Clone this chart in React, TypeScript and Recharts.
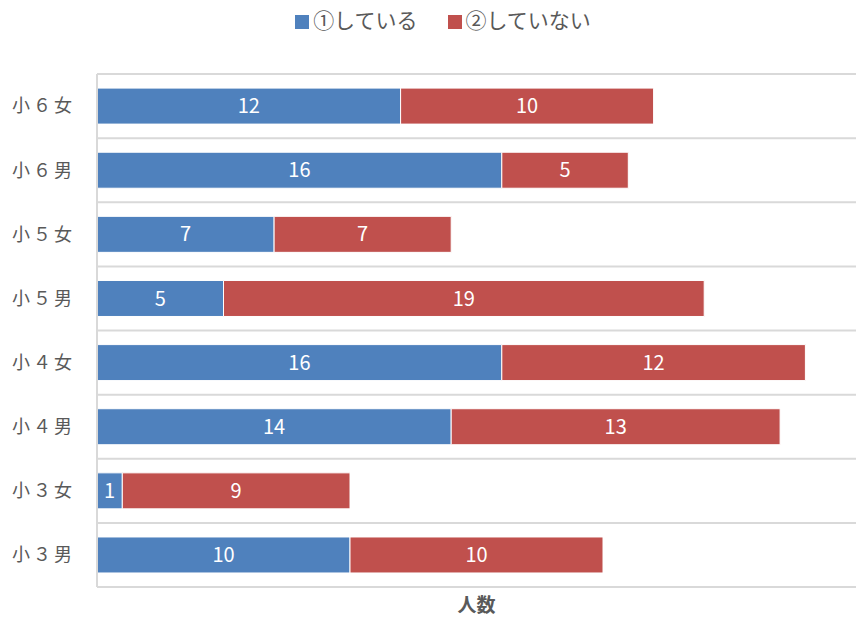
import { BarChart, Bar, XAxis, YAxis, CartesianGrid, Legend, LabelList } from "recharts";

const categories = ["小６女", "小６男", "小５女", "小５男", "小４女", "小４男", "小３女", "小３男"];
const doing = [12, 16, 7, 5, 16, 14, 1, 10];
const notDoing = [10, 5, 7, 19, 12, 13, 9, 10];

const data = categories.map((name, i) => ({ name, doing: doing[i], notDoing: notDoing[i] }));

const font = '"Noto Sans CJK JP", "Noto Sans", sans-serif';

export default function App() {
  return (
    <div style={{ position: "absolute", left: 0, top: 0, fontFamily: font }}>
      <BarChart
        width={856}
        height={619}
        data={data}
        layout="vertical"
        margin={{ top: 74, right: 0, bottom: 0, left: 0 }}
        barCategoryGap="22%"
      >
        <CartesianGrid
          vertical={false}
          stroke="#d9d9d9"
          strokeWidth={2}
          horizontalCoordinatesGenerator={({ offset }: any) =>
            categories.map((_, i) => offset.top + (i * offset.height) / categories.length)
          }
        />
        <XAxis
          type="number"
          domain={[0, 30]}
          tick={false}
          tickLine={false}
          axisLine={{ stroke: "#d9d9d9", strokeWidth: 2 }}
          height={32}
          label={{ value: "人数", position: "insideBottom", offset: 7, fill: "#595959", fontSize: 19, fontWeight: "bold" }}
        />
        <YAxis
          type="category"
          dataKey="name"
          width={97}
          tickLine={false}
          axisLine={{ stroke: "#d9d9d9", strokeWidth: 2 }}
          tick={{ fill: "#595959", fontSize: 18, letterSpacing: 3 }}
          tickMargin={16}
        />
        <Legend
          verticalAlign="middle"
          align="center"
          layout="horizontal"
          iconType="square"
          iconSize={14}
          wrapperStyle={{ top: 4, left: 30, width: 856, fontSize: 21 }}
          formatter={(value) => <span style={{ color: "#595959", marginRight: 20 }}>{value}</span>}
        />
        <Bar dataKey="doing" name="①している" stackId="a" fill="#4f81bd" stroke="#ffffff" strokeWidth={1} isAnimationActive={false}>
          <LabelList dataKey="doing" position="center" fill="#ffffff" fontSize={20} />
        </Bar>
        <Bar dataKey="notDoing" name="②していない" stackId="a" fill="#c0504d" stroke="#ffffff" strokeWidth={1} isAnimationActive={false}>
          <LabelList dataKey="notDoing" position="center" fill="#ffffff" fontSize={20} />
        </Bar>
      </BarChart>
    </div>
  );
}
